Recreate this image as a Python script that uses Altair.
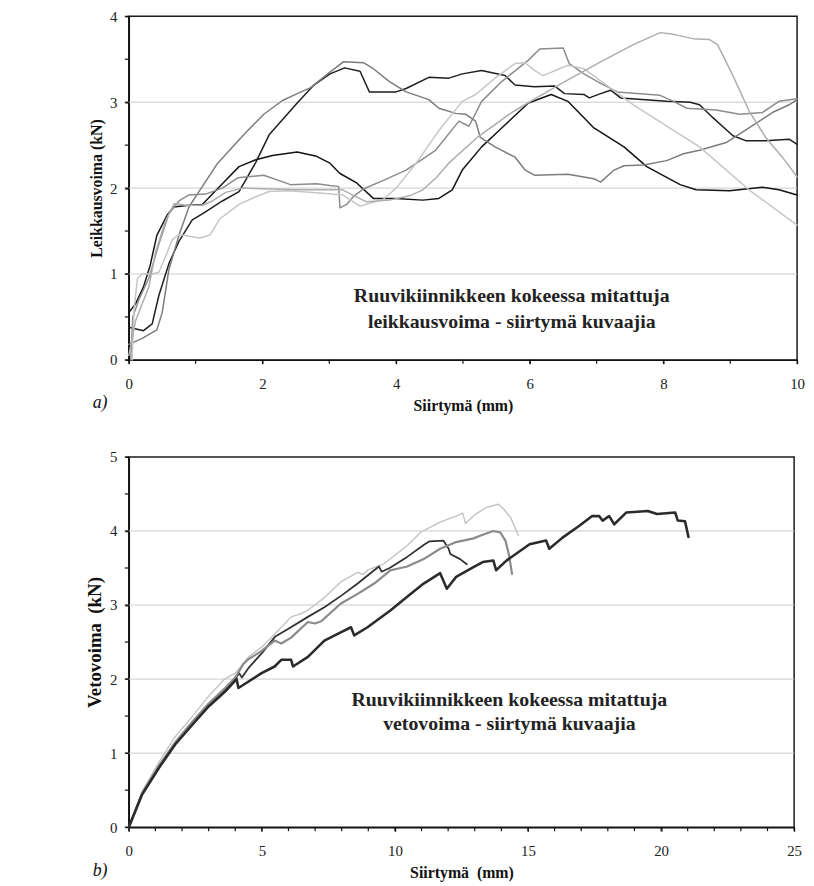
import altair as alt
import pandas as pd

FONT = "'Liberation Serif', 'Times New Roman', Times, serif"

# ---------------- panel a) : Leikkausvoima ----------------
TOP_SERIES = ["A", "B", "C", "D", "E", "F"]
TOP_COLORS = ["#1e1e1e", "#141414", "#7c7c7c", "#8c8c8c", "#c6c6c6", "#adadad"]
TOP_WIDTHS = [1.5, 1.5, 1.5, 1.5, 1.5, 2.3]

A_X = [0, 0.22, 0.35, 0.45, 0.6, 0.75, 0.95, 1.1, 1.2, 1.4, 1.65, 1.9, 2.1, 2.52, 2.77, 3.01, 3.23, 3.46, 3.6, 4.0, 4.15, 4.49, 4.79, 4.99, 5.28, 5.63, 5.78, 6.07, 6.37, 6.52, 6.81, 6.89, 7.06, 7.21, 7.36, 8.05, 8.4, 8.54, 8.74, 9.04, 9.24, 9.53, 9.88, 10]
A_Y = [0.38, 0.34, 0.42, 0.75, 1.12, 1.38, 1.63, 1.70, 1.75, 1.85, 1.96, 2.3, 2.62, 2.99, 3.2, 3.33, 3.40, 3.36, 3.12, 3.12, 3.16, 3.29, 3.28, 3.33, 3.37, 3.31, 3.2, 3.18, 3.19, 3.10, 3.09, 3.05, 3.10, 3.14, 3.05, 3.01, 3.0, 2.97, 2.82, 2.61, 2.55, 2.55, 2.57, 2.51]

B_X = [0, 0.1, 0.22, 0.32, 0.42, 0.57, 0.67, 0.9, 1.1, 1.4, 1.65, 1.9, 2.15, 2.52, 2.81, 3.01, 3.16, 3.41, 3.66, 4.0, 4.4, 4.64, 4.84, 4.99, 5.28, 5.58, 5.98, 6.32, 6.57, 6.96, 7.41, 7.75, 8.25, 8.49, 8.99, 9.48, 9.73, 10]
B_Y = [0.55, 0.65, 0.85, 1.1, 1.45, 1.68, 1.78, 1.80, 1.81, 2.05, 2.25, 2.33, 2.38, 2.42, 2.37, 2.29, 2.17, 2.06, 1.88, 1.88, 1.86, 1.88, 1.98, 2.21, 2.48, 2.70, 2.99, 3.09, 3.01, 2.70, 2.48, 2.25, 2.04, 1.98, 1.97, 2.01, 1.98, 1.92]

C_X = [0, 0.2, 0.42, 0.5, 0.6, 0.75, 0.9, 1.05, 1.33, 1.73, 2.02, 2.3, 2.52, 2.72, 3.01, 3.21, 3.51, 3.66, 3.9, 4.15, 4.49, 4.64, 4.89, 5.04, 5.19, 5.26, 5.48, 5.78, 5.93, 6.07, 6.57, 6.96, 7.06, 7.26, 7.41, 7.70, 8.05, 8.3, 8.54, 8.94, 9.28, 9.63, 9.88, 10]
C_Y = [0.18, 0.25, 0.35, 0.55, 1.05, 1.45, 1.78, 1.96, 2.29, 2.63, 2.86, 3.02, 3.10, 3.17, 3.35, 3.47, 3.46, 3.39, 3.24, 3.12, 3.03, 2.93, 2.87, 2.86, 2.78, 2.59, 2.48, 2.36, 2.21, 2.15, 2.16, 2.11, 2.07, 2.21, 2.26, 2.27, 2.32, 2.40, 2.44, 2.53, 2.70, 2.88, 2.97, 3.03]

D_X = [0.03, 0.06, 0.15, 0.3, 0.45, 0.6, 0.75, 0.9, 1.15, 1.4, 1.63, 2.02, 2.42, 2.81, 3.01, 3.14, 3.16, 3.26, 3.36, 3.51, 3.81, 4.15, 4.59, 4.94, 5.09, 5.28, 5.58, 5.98, 6.15, 6.5, 6.59, 6.81, 7.06, 7.31, 7.95, 8.15, 8.35, 8.79, 9.14, 9.48, 9.73, 10]
D_Y = [0.0, 0.5, 0.7, 0.95, 1.35, 1.7, 1.85, 1.92, 1.93, 2.0, 2.12, 2.15, 2.04, 2.05, 2.03, 2.02, 1.77, 1.81, 1.90, 1.99, 2.09, 2.21, 2.44, 2.78, 2.72, 3.01, 3.24, 3.49, 3.62, 3.63, 3.45, 3.33, 3.22, 3.12, 3.08, 3.01, 2.93, 2.91, 2.86, 2.88, 3.01, 3.04]

E_X = [0.05, 0.08, 0.13, 0.2, 0.35, 0.45, 0.55, 0.65, 0.75, 1.06, 1.21, 1.36, 1.65, 1.9, 2.1, 2.4, 2.9, 3.2, 3.46, 3.81, 4.0, 4.3, 4.64, 4.99, 5.19, 5.48, 5.78, 5.93, 6.07, 6.2, 6.57, 6.81, 7.55, 8.54, 9.28, 10]
E_Y = [0.0, 0.6, 0.95, 1.0, 1.0, 1.02, 1.2, 1.4, 1.46, 1.42, 1.45, 1.64, 1.81, 1.90, 1.96, 1.97, 1.94, 1.92, 1.79, 1.87, 2.0, 2.29, 2.67, 3.01, 3.09, 3.28, 3.45, 3.46, 3.37, 3.31, 3.43, 3.39, 2.97, 2.48, 1.98, 1.57]

F_X = [0, 0.1, 0.2, 0.3, 0.4, 0.55, 0.68, 0.85, 1.1, 1.25, 1.45, 1.7, 2.5, 3.2, 3.45, 3.56, 3.9, 4.2, 4.4, 4.6, 4.8, 5.23, 5.73, 6.1, 6.57, 7.06, 7.55, 7.95, 8.15, 8.44, 8.69, 8.81, 9.04, 9.28, 9.53, 9.78, 10]
F_Y = [0.05, 0.45, 0.65, 0.85, 1.25, 1.62, 1.82, 1.80, 1.80, 1.85, 1.95, 2.0, 1.98, 1.98, 1.88, 1.84, 1.86, 1.91, 1.98, 2.12, 2.3, 2.6, 2.88, 3.05, 3.26, 3.47, 3.67, 3.81, 3.79, 3.74, 3.73, 3.67, 3.31, 2.9, 2.59, 2.36, 2.13]

TOP_GRID = [1, 2, 3]
TOP_X_LABELS = [0, 2, 4, 6, 8, 10]
TOP_X_MINOR = list(range(0, 11))
TOP_Y_LABELS = [0, 1, 2, 3, 4]
TOP_Y_MINOR = [0, 0.5, 1, 1.5, 2, 2.5, 3, 3.5, 4]
TOP_NOTE = ["Ruuvikiinnikkeen kokeessa mitattuja", "leikkausvoima - siirtymä kuvaajia"]
TOP_NOTE_X = [5.73, 5.73]
TOP_NOTE_Y = [0.74, 0.44]

# ---------------- panel b) : Vetovoima ----------------
BOT_SERIES = ["G", "H", "I", "J"]
BOT_COLORS = ["#c3c3c3", "#333333", "#8a8a8a", "#2b2b2b"]
BOT_WIDTHS = [1.4, 2.6, 2.6, 2.6]

G_X = [0, 0.5, 1.1, 1.7, 2.4, 3.0, 3.6, 4.0, 4.5, 4.99, 5.73, 6.1, 6.45, 6.73, 7.35, 8.0, 8.6, 8.8, 8.97, 9.6, 10.46, 10.96, 11.7, 12.3, 12.55, 12.65, 13.0, 13.45, 13.9, 14.1, 14.35, 14.64]
G_Y = [0, 0.48, 0.86, 1.2, 1.5, 1.77, 2.0, 2.08, 2.3, 2.43, 2.7, 2.84, 2.88, 2.93, 3.1, 3.32, 3.44, 3.41, 3.47, 3.56, 3.8, 3.98, 4.12, 4.2, 4.24, 4.1, 4.22, 4.32, 4.36, 4.29, 4.18, 3.94]

H_X = [0, 0.5, 1.13, 1.75, 2.38, 3.0, 3.62, 4.0, 4.15, 4.25, 4.5, 5.0, 5.49, 6.0, 6.73, 7.35, 8.0, 8.6, 9.22, 9.4, 9.5, 9.8, 10.46, 11.08, 11.3, 11.82, 12.02, 12.08, 12.45, 12.7]
H_Y = [0, 0.45, 0.81, 1.13, 1.39, 1.64, 1.85, 2.0, 2.08, 2.02, 2.15, 2.35, 2.57, 2.68, 2.84, 2.97, 3.13, 3.29, 3.47, 3.52, 3.45, 3.5, 3.65, 3.81, 3.86, 3.87, 3.76, 3.69, 3.62, 3.55]

I_X = [0, 0.5, 1.13, 1.75, 2.38, 3.0, 3.62, 4.0, 4.3, 4.5, 4.99, 5.48, 5.73, 6.1, 6.73, 7.0, 7.23, 7.97, 8.6, 9.22, 9.84, 10.46, 11.08, 11.7, 12.3, 12.95, 13.3, 13.7, 13.96, 14.15, 14.28, 14.4]
I_Y = [0, 0.46, 0.83, 1.15, 1.42, 1.67, 1.88, 2.02, 2.2, 2.27, 2.38, 2.52, 2.48, 2.56, 2.77, 2.75, 2.78, 3.02, 3.15, 3.29, 3.47, 3.52, 3.62, 3.76, 3.85, 3.9, 3.95, 4.0, 3.98, 3.87, 3.69, 3.42]

J_X = [0, 0.5, 1.13, 1.75, 2.38, 3.0, 3.62, 4.05, 4.12, 4.99, 5.48, 5.73, 6.1, 6.17, 6.73, 7.35, 7.85, 8.35, 8.47, 8.97, 9.84, 10.46, 11.08, 11.7, 11.95, 12.3, 12.95, 13.3, 13.7, 13.8, 14.19, 15.06, 15.68, 15.8, 16.3, 16.93, 17.4, 17.68, 17.8, 18.05, 18.24, 18.7, 19.5, 19.85, 20.53, 20.63, 20.9, 21.03]
J_Y = [0, 0.44, 0.8, 1.12, 1.38, 1.63, 1.83, 2.0, 1.88, 2.08, 2.17, 2.26, 2.26, 2.17, 2.30, 2.52, 2.61, 2.70, 2.59, 2.70, 2.93, 3.11, 3.29, 3.43, 3.22, 3.38, 3.51, 3.58, 3.6, 3.47, 3.6, 3.82, 3.87, 3.76, 3.91, 4.07, 4.2, 4.2, 4.14, 4.2, 4.09, 4.25, 4.27, 4.23, 4.25, 4.14, 4.13, 3.92]

BOT_GRID = [1, 2, 3, 4]
BOT_X_LABELS = [0, 5, 10, 15, 20, 25]
BOT_X_MINOR = list(range(0, 26))
BOT_Y_LABELS = [0, 1, 2, 3, 4, 5]
BOT_Y_MINOR = [0, 0.5, 1, 1.5, 2, 2.5, 3, 3.5, 4, 4.5, 5]
BOT_NOTE = ["Ruuvikiinnikkeen kokeessa mitattuja", "vetovoima - siirtymä kuvaajia"]
BOT_NOTE_X = [14.3, 14.3]
BOT_NOTE_Y = [1.72, 1.39]


def frame(names, xs, ys):
    rows = []
    for n, xv, yv in zip(names, xs, ys):
        for k, (a, b) in enumerate(zip(xv, yv)):
            rows.append({"series": n, "x": a, "y": b, "k": k})
    return pd.DataFrame(rows)


top_df = frame(TOP_SERIES, [A_X, B_X, C_X, D_X, E_X, F_X], [A_Y, B_Y, C_Y, D_Y, E_Y, F_Y])
bot_df = frame(BOT_SERIES, [G_X, H_X, I_X, J_X], [G_Y, H_Y, I_Y, J_Y])


def panel(df, series, colors, widths, xdom, ydom, xlabels, xminor, ylabels, yminor, grid,
          note, note_x, note_y, xtitle, ytitle, ytitle_size, tag, w, h):
    xs = alt.Scale(domain=xdom, nice=False, zero=False)
    ys = alt.Scale(domain=ydom, nice=False)
    xaxis = alt.Axis(values=xlabels, format="d", title=xtitle, grid=False, tickSize=4,
                     labelPadding=13, titlePadding=6, titleFontSize=16)
    yaxis = alt.Axis(values=ylabels, format="d", title=ytitle, grid=False, tickSize=4,
                     labelPadding=8, titlePadding=5, titleFontSize=ytitle_size)
    g = alt.Chart(pd.DataFrame({"g": grid})).mark_rule(color="#cbcbcb", strokeWidth=1).encode(
        y=alt.Y("g:Q", scale=ys, axis=yaxis))
    xt = alt.Chart(pd.DataFrame({"t": xminor})).mark_rule(color="#111", strokeWidth=1.2).encode(
        x=alt.X("t:Q", scale=xs, axis=xaxis), y=alt.value(h), y2=alt.value(h + 4))
    yt = alt.Chart(pd.DataFrame({"t": yminor})).mark_rule(color="#111", strokeWidth=1.2).encode(
        y=alt.Y("t:Q", scale=ys, axis=yaxis), x=alt.value(-4), x2=alt.value(0))
    lines = alt.Chart(df).mark_line(strokeJoin="round", strokeCap="round").encode(
        x=alt.X("x:Q", scale=xs, axis=xaxis),
        y=alt.Y("y:Q", scale=ys, axis=yaxis),
        color=alt.Color("series:N", scale=alt.Scale(domain=series, range=colors), legend=None),
        strokeWidth=alt.StrokeWidth("series:N", scale=alt.Scale(domain=series, range=widths), legend=None),
        order="k:Q",
    )
    txt = alt.Chart(pd.DataFrame({"t": note, "x": note_x, "y": note_y})).mark_text(
        font=FONT, fontSize=20, fontWeight="bold", color="#222", align="center", baseline="middle"
    ).encode(x=alt.X("x:Q", scale=xs), y=alt.Y("y:Q", scale=ys), text="t:N")
    lab = alt.Chart(pd.DataFrame({"t": [tag]})).mark_text(
        font=FONT, fontSize=18, fontStyle="italic", color="#111", align="center", baseline="middle"
    ).encode(x=alt.value(-29), y=alt.value(h + 44), text="t:N")
    return alt.layer(g, xt, yt, lines, txt, lab).properties(width=w, height=h)


top = panel(top_df, TOP_SERIES, TOP_COLORS, TOP_WIDTHS, [0, 10], [0, 4],
            TOP_X_LABELS, TOP_X_MINOR, TOP_Y_LABELS, TOP_Y_MINOR,
            TOP_GRID, TOP_NOTE, TOP_NOTE_X, TOP_NOTE_Y, "Siirtymä (mm)", "Leikkausvoima (kN)", 16,
            "a)", 675, 347)
bot = panel(bot_df, BOT_SERIES, BOT_COLORS, BOT_WIDTHS, [0, 25], [0, 5],
            BOT_X_LABELS, BOT_X_MINOR, BOT_Y_LABELS, BOT_Y_MINOR,
            BOT_GRID, BOT_NOTE, BOT_NOTE_X, BOT_NOTE_Y, "Siirtymä\u00a0\u00a0(mm)", "Vetovoima\u00a0\u00a0(kN)", 19,
            "b)", 672, 374)

chart = alt.vconcat(top, bot, spacing=35).resolve_scale(
    color="independent", strokeWidth="independent"
).properties(
    padding={"left": 77, "top": -4, "right": 0, "bottom": 0}
).configure_view(stroke="#1a1a1a", strokeWidth=1.5).configure_axis(
    labelFont=FONT, titleFont=FONT, labelFontSize=15, labelColor="#222", titleColor="#111",
    titleFontWeight="bold", domainColor="#111", domainWidth=1.5, tickColor="#111", tickWidth=1.2,
    labelFlush=False, labelOverlap=False,
)

chart.save("out.html", embed_options={"renderer": "svg", "actions": False})
